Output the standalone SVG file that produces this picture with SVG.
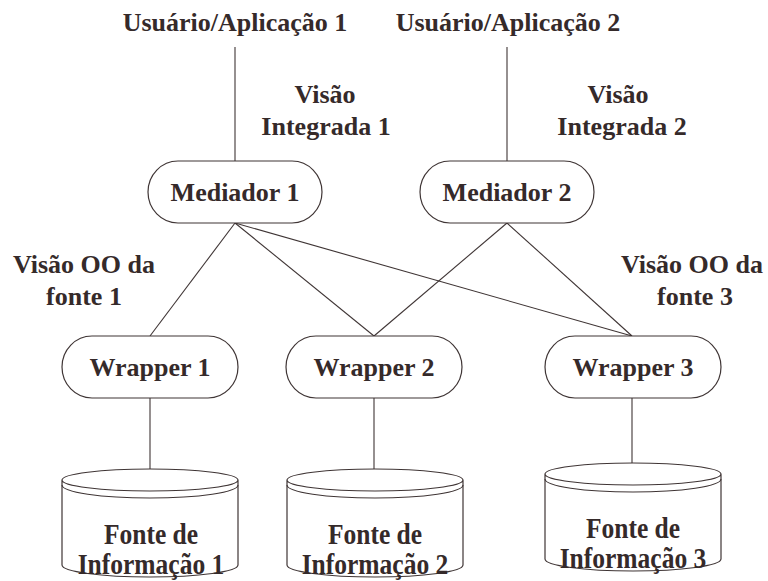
<svg xmlns="http://www.w3.org/2000/svg" width="768" height="581" viewBox="0 0 768 581">
  <style>
    .lbl { font-family: "Liberation Serif", "Times New Roman", serif; font-weight: bold; font-size: 26px; fill: #352a2a; text-anchor: middle; }
    .tall { font-size: 29px; }
    .shape { fill: #ffffff; stroke: #3f3535; stroke-width: 1.2; }
    .wire { fill: none; stroke: #3f3535; stroke-width: 1.1; }
  </style>
  <defs>
    <!-- database cylinder, origin at top-left of the top ellipse -->
    <g id="cyl">
      <path class="shape" d="M0,11 L0,96 A88,12 0 0 0 176,96 L176,11 A88,11 0 0 0 0,11 A88,11 0 0 0 176,11"/>
      <path class="wire" d="M0,16 A88,13 0 0 0 176,16"/>
    </g>
  </defs>
  <rect width="768" height="581" fill="#ffffff"/>

  <!-- connectors -->
  <g id="connectors" class="wire">
    <line x1="235" y1="47" x2="235" y2="161"/>
    <line x1="507" y1="47" x2="507" y2="161"/>
    <line x1="235" y1="223" x2="150" y2="336"/>
    <line x1="235" y1="223" x2="374" y2="336"/>
    <line x1="235" y1="223" x2="632" y2="336"/>
    <line x1="507" y1="223" x2="374" y2="336"/>
    <line x1="507" y1="223" x2="632" y2="336"/>
    <line x1="150" y1="398" x2="150" y2="469"/>
    <line x1="374" y1="398" x2="374" y2="469"/>
    <line x1="632" y1="398" x2="632" y2="463"/>
  </g>

  <!-- free labels -->
  <g id="user1"><text class="lbl" x="235" y="31">Usuário/Aplicação 1</text></g>
  <g id="user2"><text class="lbl" x="508" y="31">Usuário/Aplicação 2</text></g>
  <g id="view1">
    <text class="lbl" x="325" y="103">Visão</text>
    <text class="lbl" x="326" y="135">Integrada 1</text>
  </g>
  <g id="view2">
    <text class="lbl" x="618" y="103">Visão</text>
    <text class="lbl" x="622" y="135">Integrada 2</text>
  </g>
  <g id="oo1">
    <text class="lbl" x="84" y="273">Visão OO da</text>
    <text class="lbl" x="84" y="305">fonte 1</text>
  </g>
  <g id="oo3">
    <text class="lbl" x="692" y="273">Visão OO da</text>
    <text class="lbl" x="695" y="305">fonte 3</text>
  </g>

  <!-- mediators -->
  <g id="mediador1">
    <rect class="shape" x="148" y="161" width="174" height="62" rx="30" ry="31"/>
    <text class="lbl" x="235" y="201">Mediador 1</text>
  </g>
  <g id="mediador2">
    <rect class="shape" x="420" y="161" width="174" height="62" rx="30" ry="31"/>
    <text class="lbl" x="507" y="201">Mediador 2</text>
  </g>

  <!-- wrappers -->
  <g id="wrapper1">
    <rect class="shape" x="62" y="336" width="176" height="62" rx="30" ry="31"/>
    <text class="lbl" x="150" y="376">Wrapper 1</text>
  </g>
  <g id="wrapper2">
    <rect class="shape" x="286" y="336" width="176" height="62" rx="30" ry="31"/>
    <text class="lbl" x="374" y="376">Wrapper 2</text>
  </g>
  <g id="wrapper3">
    <rect class="shape" x="545" y="336" width="176" height="62" rx="30" ry="31"/>
    <text class="lbl" x="633" y="376">Wrapper 3</text>
  </g>

  <!-- information sources (narrow, tall lettering) -->
  <g id="fonte1">
    <use href="#cyl" x="62" y="469"/>
    <text class="lbl tall" transform="translate(151,544) scale(0.88,1)">Fonte de</text>
    <text class="lbl tall" transform="translate(151,574) scale(0.88,1)">Informação 1</text>
  </g>
  <g id="fonte2">
    <use href="#cyl" x="287" y="469"/>
    <text class="lbl tall" transform="translate(375,544) scale(0.88,1)">Fonte de</text>
    <text class="lbl tall" transform="translate(375,574) scale(0.88,1)">Informação 2</text>
  </g>
  <g id="fonte3">
    <use href="#cyl" x="545" y="463"/>
    <text class="lbl tall" transform="translate(633,538) scale(0.88,1)">Fonte de</text>
    <text class="lbl tall" transform="translate(633,568) scale(0.88,1)">Informação 3</text>
  </g>
</svg>
